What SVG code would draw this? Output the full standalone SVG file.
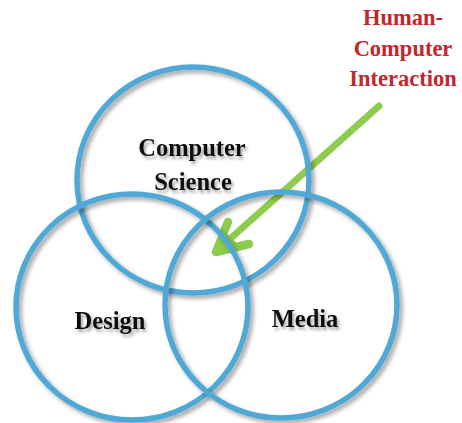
<svg xmlns="http://www.w3.org/2000/svg" width="462" height="423" viewBox="0 0 462 423">
<defs>
<filter id="sh" x="-20%" y="-20%" width="140%" height="140%">
<feDropShadow dx="3" dy="3" stdDeviation="2" flood-color="#000" flood-opacity="0.35"/>
</filter>
<filter id="tsh" x="-20%" y="-20%" width="140%" height="160%">
<feDropShadow dx="2" dy="3" stdDeviation="1.8" flood-color="#000" flood-opacity="0.35"/>
</filter>
</defs>
<style>
.ring{fill:none;stroke:#4fa8d6;stroke-width:5.5;filter:url(#sh)}
.lbl{font-family:"Liberation Serif","Times New Roman",serif;font-weight:bold;font-size:24.5px;fill:#111;text-anchor:middle;filter:url(#tsh)}
.hci{font-family:"Liberation Serif","Times New Roman",serif;font-weight:bold;font-size:22.5px;fill:#c1272d;text-anchor:middle}
.arr{stroke:#8dcc4e;fill:none;stroke-linecap:round;stroke-linejoin:round}
</style>
<rect width="462" height="423" fill="#fff"/>
<g id="connectors">
<path class="arr" d="M379,106 L222,246" stroke-width="7" stroke-linecap="butt"/>
<path class="arr" d="M228,222 L216,252 L249,244" stroke-width="8.5"/>
<polygon points="213,255 221,228 241,247" fill="#8dcc4e"/>
</g>
<g id="computer-science">
<ellipse class="ring" cx="193" cy="180" rx="116" ry="113"/>
<text class="lbl" x="192" y="156">Computer</text>
<text class="lbl" x="193" y="190">Science</text>
</g>
<g id="design">
<ellipse class="ring" cx="132" cy="307" rx="116" ry="113"/>
<text class="lbl" x="110" y="329">Design</text>
</g>
<g id="media">
<ellipse class="ring" cx="281" cy="305" rx="116" ry="113"/>
<text class="lbl" x="305" y="327">Media</text>
</g>
<g id="hci">
<text class="hci" x="403" y="25">Human-</text>
<text class="hci" x="403" y="56">Computer</text>
<text class="hci" x="403" y="86">Interaction</text>
</g>
</svg>
